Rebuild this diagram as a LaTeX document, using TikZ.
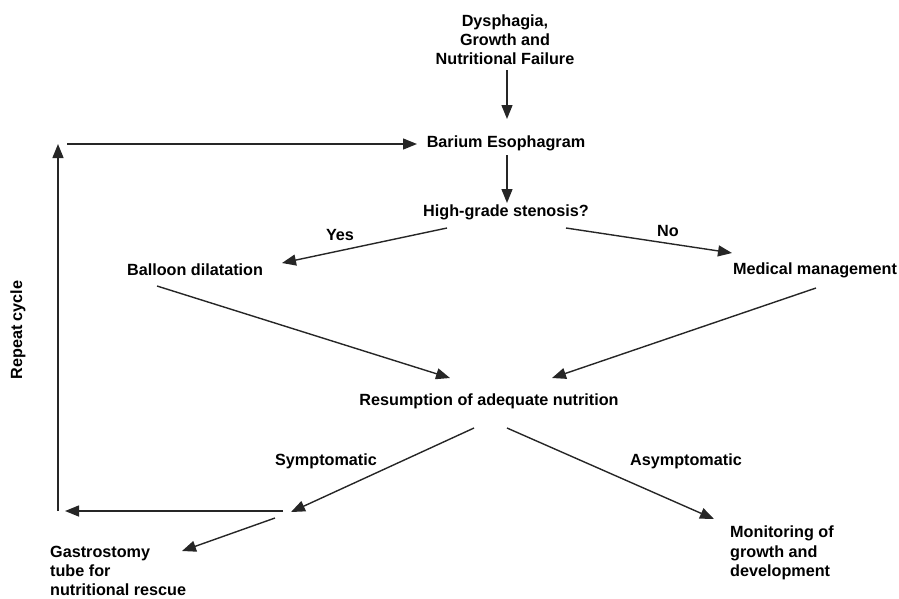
\documentclass[tikz,border=0pt]{standalone}
\usepackage{fontspec}
\setmainfont{Liberation Sans}
\usetikzlibrary{arrows.meta}
\tikzset{
  lbl/.style={inner sep=0pt, font=\fontsize{16.2}{19.2}\selectfont\bfseries},
  conn/.style={line width=1.4pt, draw={black!85}, -{Triangle[length=14pt,width=11pt]}},
  plain/.style={line width=1.4pt, draw={black!85}}
}
\begin{document}
\begin{tikzpicture}[x=1pt,y=-1pt]
\useasboundingbox (0,0) rectangle (899,598);
% nodes
\node[lbl, align=center] (dys) at (505,40) {Dysphagia,\\Growth and\\Nutritional Failure};
\node[lbl] (bar) at (506,143) {Barium Esophagram};
\node[lbl] (hgs) at (506,212) {High-grade stenosis?};
\node[lbl] (yes) at (340,235) {Yes};
\node[lbl] (no) at (668,231) {No};
\node[lbl] (bal) at (195,270) {Balloon dilatation};
\node[lbl] (med) at (815,270) {Medical management};
\node[lbl] (res) at (489,401) {Resumption of adequate nutrition};
\node[lbl] (sym) at (326,461) {Symptomatic};
\node[lbl] (asym) at (686,461) {Asymptomatic};
\node[lbl, align=left, anchor=west] (mon) at (730,553) {Monitoring of\\growth and\\development};
\node[lbl, align=left, anchor=west] (gas) at (50,571) {Gastrostomy\\tube for\\nutritional rescue};
\node[lbl, rotate=90] (rep) at (18,330) {Repeat cycle};
% connector end points
\coordinate (dysB) at (507,70);
\coordinate (barT) at (507,119);
\coordinate (barB) at (507,155);
\coordinate (hgsT) at (507,203);
\coordinate (hgsL) at (447,228);
\coordinate (balR) at (282,263);
\coordinate (hgsR) at (566,228);
\coordinate (medL) at (732,253);
\coordinate (balB) at (157,286);
\coordinate (resL) at (450,378);
\coordinate (medB) at (816,288);
\coordinate (resR) at (552,378);
\coordinate (resBL) at (474,428);
\coordinate (split) at (291,512);
\coordinate (resBR) at (507,428);
\coordinate (monT) at (714,519);
\coordinate (splitL) at (283,511);
\coordinate (corner) at (65,511);
\coordinate (vline) at (58,511);
\coordinate (vtop) at (58,144);
\coordinate (htop) at (67,144);
\coordinate (barL) at (417,144);
\coordinate (splitB) at (275,518);
\coordinate (gasT) at (182,551);
% connectors
\draw[conn] (dysB) -- (barT);
\draw[conn] (barB) -- (hgsT);
\draw[conn] (hgsL) -- (balR);
\draw[conn] (hgsR) -- (medL);
\draw[conn] (balB) -- (resL);
\draw[conn] (medB) -- (resR);
\draw[conn] (resBL) -- (split);
\draw[conn] (resBR) -- (monT);
\draw[conn] (splitL) -- (corner);
\draw[conn] (vline) -- (vtop);
\draw[conn] (htop) -- (barL);
\draw[conn] (splitB) -- (gasT);
\end{tikzpicture}
\end{document}
